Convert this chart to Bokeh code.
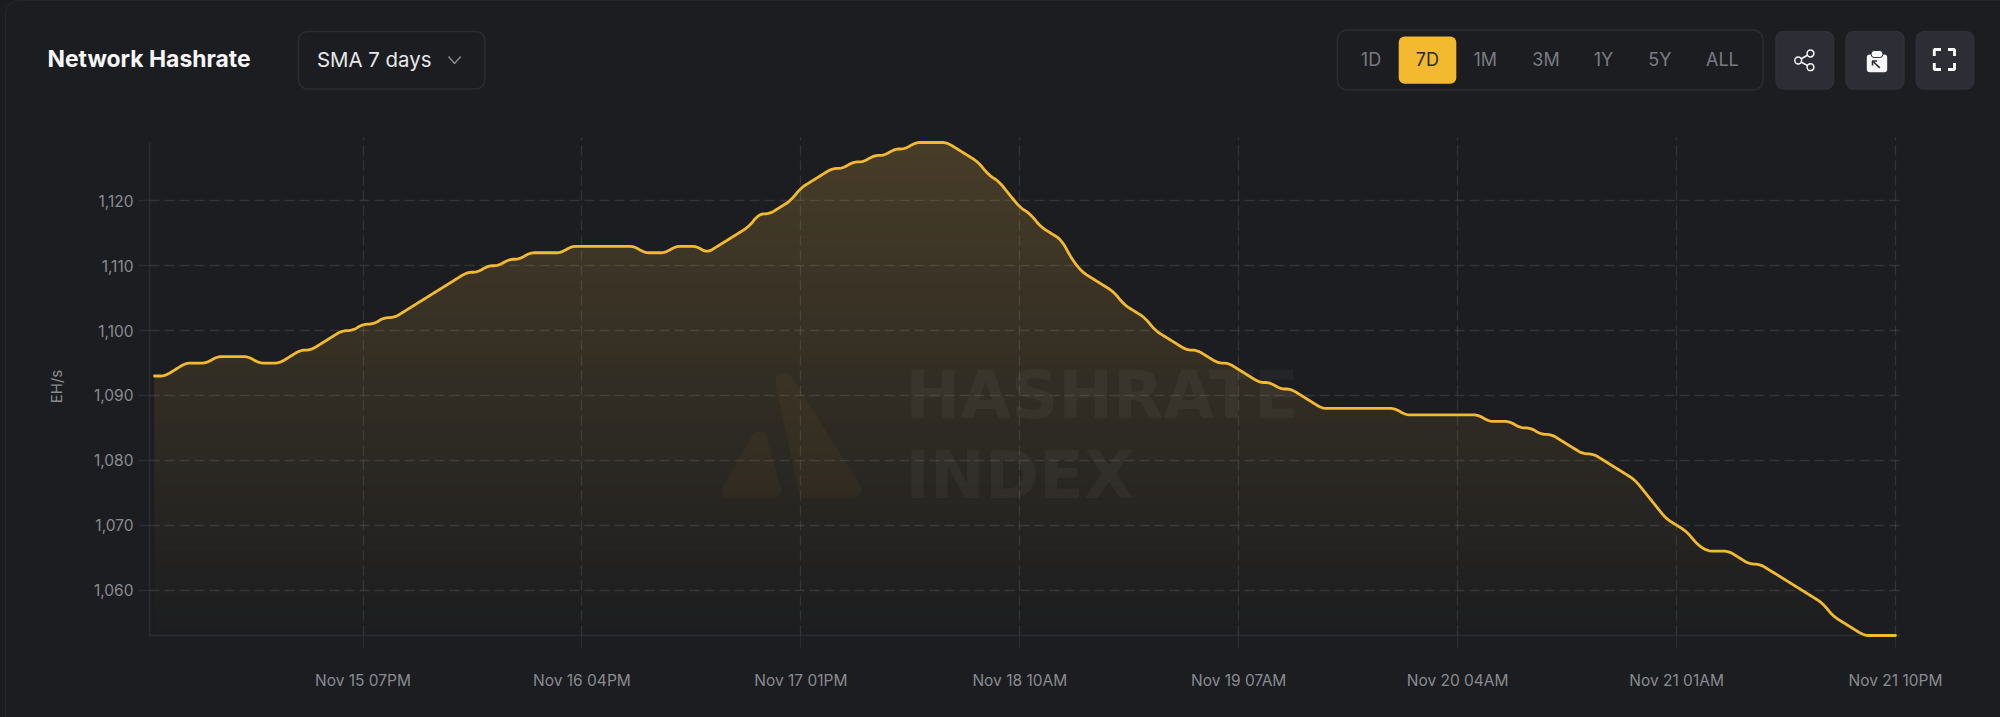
import math
import numpy as np
from bokeh.plotting import figure
from bokeh.models import Range1d, FixedTicker, NumeralTickFormatter, Label, LinearAxis
from bokeh.core.properties import value
from bokeh.embed import file_html
from bokeh.resources import INLINE

# ---------------- data ----------------
hours = list(range(168))   # hours since Nov 14 11PM
hashrate = [
    1093,1093,1094,1095,1095,1095,1096,1096,1096,1096,
    1095,1095,1095,1096,1097,1097,1098,1099,1100,1100,
    1101,1101,1102,1102,1103,1104,1105,1106,1107,1108,
    1109,1109,1110,1110,1111,1111,1112,1112,1112,1112,
    1113,1113,1113,1113,1113,1113,1113,1112,1112,1112,
    1113,1113,1113,1112,1113,1114,1115,1116,1118,1118,
    1119,1120,1122,1123,1124,1125,1125,1126,1126,1127,
    1127,1128,1128,1129,1129,1129,1129,1128,1127,1126,
    1124,1123,1121,1119,1118,1116,1115,1114,1111,1109,
    1108,1107,1106,1104,1103,1102,1100,1099,1098,1097,
    1097,1096,1095,1095,1094,1093,1092,1092,1091,1091,
    1090,1089,1088,1088,1088,1088,1088,1088,1088,1088,
    1087,1087,1087,1087,1087,1087,1087,1087,1086,1086,
    1086,1085,1085,1084,1084,1083,1082,1081,1081,1080,
    1079,1078,1077,1075,1073,1071,1070,1069,1067,1066,
    1066,1066,1065,1064,1064,1063,1062,1061,1060,1059,
    1058,1056,1055,1054,1053,1053,1053,1053,
]
x_tick_hours = [20, 41, 62, 83, 104, 125, 146, 167]
x_tick_labels = ["Nov 15 07PM", "Nov 16 04PM", "Nov 17 01PM", "Nov 18 10AM",
                 "Nov 19 07AM", "Nov 20 04AM", "Nov 21 01AM", "Nov 21 10PM"]
y_ticks = [1060, 1070, 1080, 1090, 1100, 1110, 1120]
range_labels = ["1D", "7D", "1M", "3M", "1Y", "5Y", "ALL"]

# ---------------- style ----------------
BG = "#1c1d20"
EDGE = "#2b2c32"
YEL = "#f3ba2f"
GREY = "#8a8b91"
BTN = "#2c2d35"
WHITE = "#f8f8f8"
W, H = 2000, 717
HEAD_H = 137       # header strip height
FRAME_L, FRAME_R, FRAME_B = 149, 1900, 635


def hexmix(alpha):
    b = (0x1c, 0x1d, 0x20)
    y = (0xf3, 0xba, 0x46)
    return "#%02x%02x%02x" % tuple(int(round(b[i] + (y[i] - b[i]) * alpha)) for i in range(3))


def chaikin(xs, ys, passes=2):
    """Corner rounding of the drawn path (the chart's line is a smoothed one)."""
    pts = np.column_stack([xs, ys]).astype(float)
    for _ in range(passes):
        q = 0.75 * pts[:-1] + 0.25 * pts[1:]
        r = 0.25 * pts[:-1] + 0.75 * pts[1:]
        mid = np.empty((2 * len(q), 2))
        mid[0::2] = q
        mid[1::2] = r
        pts = np.vstack([pts[:1], mid, pts[-1:]])
    return pts[:, 0], pts[:, 1]


# ================= chart =================
PX_PER_HOUR = 10.425
PX_PER_UNIT = 6.487
p = figure(width=W, height=H - HEAD_H, output_backend="svg", toolbar_location=None,
           x_range=Range1d(-0.48, 167.48), y_range=Range1d(1053, 1053 + 498 / PX_PER_UNIT),
           min_border_left=FRAME_L, min_border_right=W - FRAME_R, min_border_top=0,
           min_border_bottom=H - FRAME_B,
           background_fill_color=BG, border_fill_color=BG, outline_line_color=None)

sx, sy = chaikin(hours, hashrate)

# gradient area: stacked opaque layers, each clipped by the series
top = float(max(hashrate))
bot = float(min(hashrate))
for lv in range(min(hashrate), max(hashrate)):
    t = (lv + 1 - bot) / (top - bot)
    p.varea(x=sx.tolist(), y1=[lv] * len(sx), y2=np.maximum(sy, lv).tolist(),
            fill_color=hexmix(0.197 * t))


def px2data(pts):
    return ([(a - 154) / PX_PER_HOUR for a, _ in pts],
            [1053 + (FRAME_B - b) / PX_PER_UNIT for _, b in pts])


def rounded(pts, r, n=10):
    """Polygon with circular corners of radius r."""
    out = []
    m = len(pts)
    for i in range(m):
        c = np.array(pts[i], float)
        ua = np.array(pts[i - 1], float) - c; ua /= np.hypot(*ua)
        ub = np.array(pts[(i + 1) % m], float) - c; ub /= np.hypot(*ub)
        ang = math.acos(np.clip(ua @ ub, -1, 1))
        bis = ua + ub; bis /= np.hypot(*bis)
        centre = c + bis * (r / math.sin(ang / 2))
        p0 = c + ua * (r / math.tan(ang / 2))
        p2 = c + ub * (r / math.tan(ang / 2))
        a0 = math.atan2(*(p0 - centre)[::-1])
        a2 = math.atan2(*(p2 - centre)[::-1])
        da = (a2 - a0 + math.pi) % (2 * math.pi) - math.pi
        for k in range(n + 1):
            a = a0 + da * k / n
            out.append((float(centre[0] + r * math.cos(a)), float(centre[1] + r * math.sin(a))))
    return out


# watermark logo
for tri, rad in (([(764.4, 334), (799.6, 498), (868, 498)], 9), ([(761.3, 417.7), (715.8, 498), (783, 498)], 8)):
    xs, ys = px2data(rounded(tri, rad))
    p.patch(xs, ys, fill_color=YEL, fill_alpha=0.04, line_color=None)

# grid
for g in (p.xgrid, p.ygrid):
    g.grid_line_color = "#ffffff"
    g.grid_line_alpha = 0.1
    g.grid_line_width = 1.3
    g.grid_line_dash = "10 5"
    g.level = "annotation"
p.xgrid.bounds = (1053, 1129)
p.xgrid.ticker = FixedTicker(ticks=x_tick_hours)
p.ygrid.ticker = FixedTicker(ticks=y_ticks)

# axes
xa = p.xaxis[0]
xa.ticker = FixedTicker(ticks=x_tick_hours)
xa.major_label_overrides = dict(zip(x_tick_hours, x_tick_labels))
ya = p.yaxis[0]
ya.ticker = FixedTicker(ticks=y_ticks)
ya.formatter = NumeralTickFormatter(format="0,0")
ya.bounds = (1053, 1129)
for a in (xa, ya):
    a.axis_line_color = EDGE
    a.axis_line_width = 1.5
    a.major_tick_line_color = EDGE
    a.major_tick_line_width = 1.3
    a.major_tick_in = 0
    a.minor_tick_line_color = None
    a.major_label_text_color = GREY
    a.major_label_text_font = "Inter"
    a.major_label_text_font_size = "15.5px"
xa.major_tick_out = 12
xa.major_label_standoff = 23
ya.major_tick_out = 11
ya.major_label_standoff = 5

# label-only axis, so that its title can sit a little below the chart's centre
title_axis = LinearAxis(ticker=FixedTicker(ticks=[]), bounds=(1053, 1127), axis_line_color=None,
                        major_tick_line_color=None, minor_tick_line_color=None,
                        major_label_text_font_size="1px", axis_label="EH/s",
                        axis_label_text_font="Inter", axis_label_text_font_style="normal",
                        axis_label_text_font_size="15px", axis_label_text_color=GREY,
                        axis_label_standoff=25)
p.add_layout(title_axis, "left")

line = p.line(sx.tolist(), sy.tolist(), line_color=YEL, line_width=2.8, line_join="round", line_cap="round")
line.level = "overlay"


def chart_text(x, y, s, size, color, font="Inter", style="normal", align="left", angle=0, alpha=1):
    # Label screen coordinates run from the frame's lower left corner here
    p.add_layout(Label(x=x - FRAME_L, y=FRAME_B - y, x_units="screen", y_units="screen", text=s,
                       text_color=color, text_font=font, text_font_size=size,
                       text_font_style=style, text_align=align, text_baseline="middle",
                       angle=angle, text_alpha=alpha, level="annotation"))


chart_text(905, 394, "HASHRATE", "65.5px", "#ffffff", font="DejaVu Sans", style="bold", alpha=0.04)
chart_text(905, 474, "INDEX", "65.5px", "#ffffff", font="DejaVu Sans", style="bold", alpha=0.04)

# ================= header strip (coordinates are page pixels) =================
h = figure(width=W, height=HEAD_H, output_backend="svg", toolbar_location=None,
           x_range=Range1d(0, W), y_range=Range1d(HEAD_H, 0),
           x_axis_type=None, y_axis_type=None, min_border=0,
           background_fill_color=BG, border_fill_color=BG, outline_line_color=None)
h.grid.visible = False


def box(x0, y0, x1, y1, fill=None, edge=None, r=8, lw=1.5):
    h.quad(left=[x0], right=[x1], top=[y0], bottom=[y1], fill_color=fill, fill_alpha=1 if fill else 0,
           line_color=edge, line_width=lw, border_radius=r)


def text(x, y, s, size, color, style="normal", align="left"):
    h.text(x=[x], y=[y], text=[s], text_color=color, text_font=value("Inter"), text_font_size=value(size),
           text_font_style=style, text_align=align, text_baseline="middle")


text(47, 58.5, "Network Hashrate", "22.9px", "#f6f6f8", style="bold")
box(298, 31, 484.5, 88.5, edge=EDGE, r=9)
text(316.5, 58.5, "SMA 7 days", "20.4px", "#e8e8ea")
h.line([448, 454, 460.3], [56, 63, 56], line_color=GREY, line_width=1.5)

box(1336.8, 29.5, 1762.5, 89.5, edge=EDGE, r=10)
box(1398.2, 36, 1455.8, 83.3, fill=YEL, r=6)
range_centers = [1370.5, 1426.8, 1484.8, 1545.5, 1603, 1659.4, 1721.9]
for cx, lab in zip(range_centers, range_labels):
    text(cx, 59, lab, "18px", "#2a2a2e" if lab == "7D" else "#797b83", align="center")

for x0, x1 in ((1775.5, 1833), (1845.5, 1903.5), (1915.8, 1973.2)):
    box(x0, 31, x1, 88.5, fill=BTN, edge="#303139", r=8)

# share icon
h.line([1810, 1797.7, 1810], [53, 60, 66.7], line_color=WHITE, line_width=1.5)
h.circle([1810, 1797.7, 1810], [53, 60, 66.7], radius=3.4, fill_color=BTN, line_color=WHITE, line_width=1.5)
# clipboard icon
box(1866.3, 54, 1886.7, 71.7, fill=WHITE, r=3)
box(1870.7, 50, 1882.3, 57, fill=WHITE, edge=BTN, r=3, lw=1)
h.line([1879.3, 1872], [67.3, 60.5], line_color=BTN, line_width=1.6)
h.line([1872, 1872, 1876.5], [65, 60.5, 60.5], line_color=BTN, line_width=1.6)
# fullscreen icon
h.line([1933.8, 1933.8, 1940.5], [55.5, 49, 49], line_color=WHITE, line_width=2.9)
h.line([1947.5, 1954, 1954], [49, 49, 55.5], line_color=WHITE, line_width=2.9)
h.line([1933.8, 1933.8, 1940.5], [62.5, 69, 69], line_color=WHITE, line_width=2.9)
h.line([1947.5, 1954, 1954], [69, 69, 62.5], line_color=WHITE, line_width=2.9)

html = file_html([h, p], INLINE)
css = ("<style>html,body{background:%s;overflow:hidden;margin:0;padding:0;}"
       "body::before{content:'';position:fixed;left:5px;top:0;width:4000px;height:4000px;"
       "border:1px solid #26272c;border-radius:14px;pointer-events:none;z-index:5;}</style>" % BG)
html = html.replace("</head>", css + "</head>", 1)
open("out.html", "w").write(html)
